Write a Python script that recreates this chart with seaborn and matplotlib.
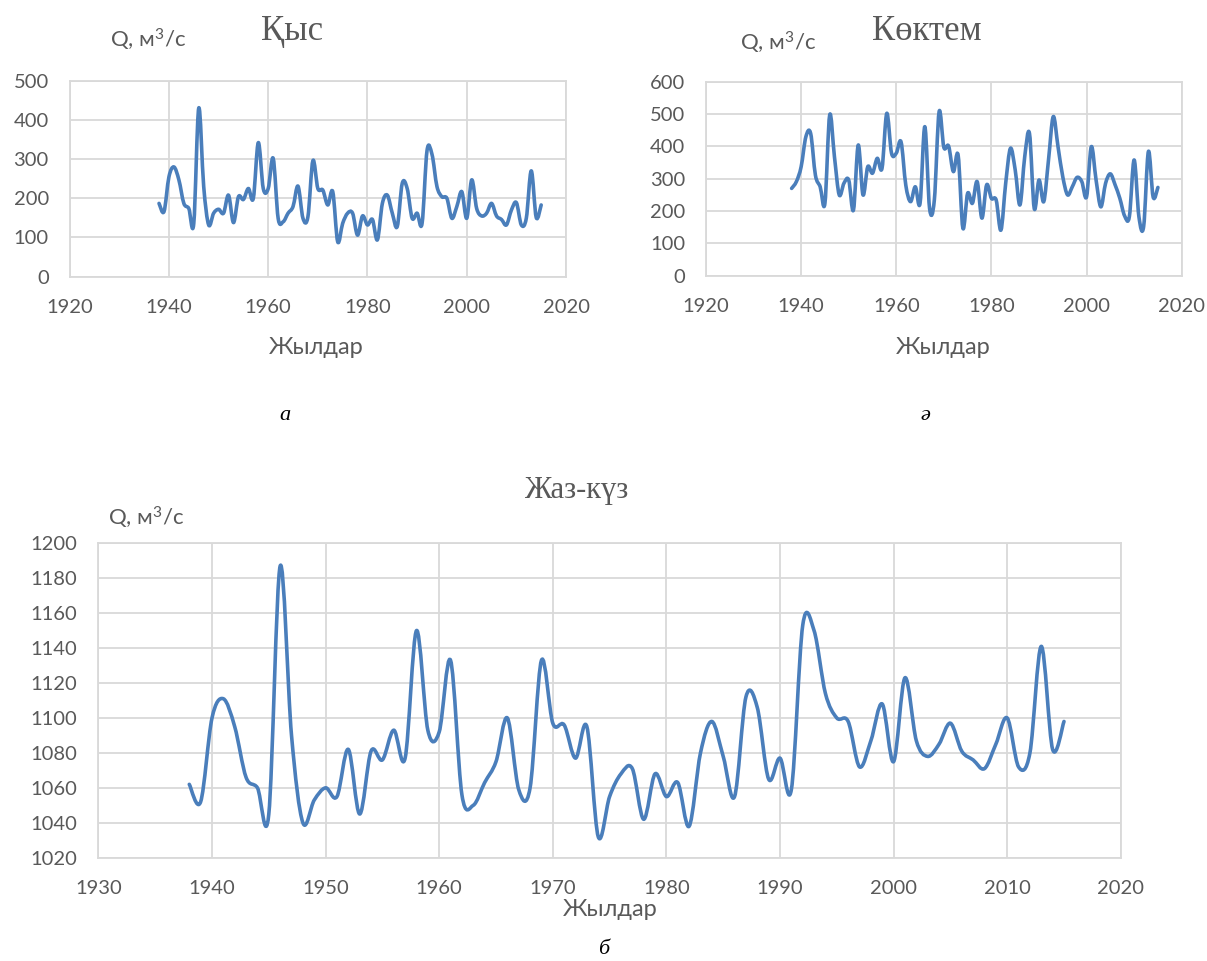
import numpy as np
import pandas as pd
import matplotlib
matplotlib.use("Agg")
import matplotlib.pyplot as plt
from matplotlib.path import Path
from matplotlib.patches import PathPatch
import seaborn as sns

# Annual mean discharge, Q (m^3/s), by season
years = list(range(1938, 2016))

winter = [187, 166, 255, 280, 247, 187, 174, 136, 430, 230,
          132, 162, 172, 162, 208, 138, 204, 197, 225, 200,
          342, 225, 225, 302, 149, 140, 162, 179, 231, 149,
          153, 296, 225, 221, 183, 217, 89, 136, 162, 162,
          106, 155, 132, 146, 94, 187, 208, 162, 128, 238,
          225, 149, 162, 136, 322, 312, 230, 204, 200, 149,
          179, 217, 149, 247, 174, 155, 162, 187, 155, 146,
          132, 170, 189, 132, 149, 270, 151, 183]

spring = [270, 291, 337, 430, 440, 311, 275, 224, 497, 368,
          250, 286, 296, 203, 404, 250, 337, 317, 363, 332,
          502, 379, 379, 414, 280, 229, 275, 224, 461, 208,
          234, 507, 397, 401, 322, 373, 147, 255, 224, 291,
          178, 281, 239, 234, 141, 286, 394, 327, 219, 368,
          440, 208, 296, 229, 358, 492, 399, 306, 250, 275,
          304, 291, 244, 399, 296, 213, 286, 315, 281, 239,
          185, 183, 358, 183, 152, 384, 243, 273]

summer_autumn = [1062, 1052, 1100, 1111, 1095, 1066, 1060, 1045, 1187, 1090,
                 1040, 1053, 1060, 1055, 1082, 1045, 1081, 1076, 1093, 1077,
                 1150, 1093, 1092, 1133, 1056, 1050, 1063, 1075, 1100, 1059,
                 1060, 1133, 1097, 1096, 1077, 1095, 1032, 1055, 1068, 1071,
                 1042, 1068, 1055, 1063, 1038, 1080, 1098, 1078, 1055, 1112,
                 1106, 1065, 1077, 1059, 1153, 1150, 1114, 1100, 1098, 1072,
                 1087, 1108, 1075, 1123, 1087, 1078, 1085, 1097, 1081, 1076,
                 1071, 1085, 1100, 1072, 1080, 1141, 1082, 1098]

titles = ["Қыс", "Көктем", "Жаз-күз"]
panel_letters = ["а", "ә", "б"]
y_label = r"Q, м$^{3}$/с"
x_label = "Жылдар"

W, H = 1207, 961
LINE = "#4a7ebb"
GRID = "#d9d9d9"
TXT = "#595959"

sns.set_theme(style="whitegrid")
plt.rcParams["font.family"] = ["Lato", "Open Sans", "DejaVu Sans"]
plt.rcParams["mathtext.fontset"] = "custom"
plt.rcParams["mathtext.rm"] = "Lato"
plt.rcParams["mathtext.it"] = "Lato:italic"
plt.rcParams["mathtext.bf"] = "Lato:bold"
plt.rcParams["mathtext.default"] = "regular"
SERIF = ["Liberation Serif", "DejaVu Serif"]


def smooth_line(ax, x, y):
    """Draw the series with seaborn, then render it as a smoothed
    Catmull-Rom curve through the same data points."""
    sns.lineplot(x=x, y=y, ax=ax, color=LINE, linewidth=2.6)
    line = ax.lines[-1]
    pts = line.get_xydata()
    line.remove()
    verts = [pts[0]]
    codes = [Path.MOVETO]
    n = len(pts)
    for i in range(n - 1):
        p0 = pts[i - 1] if i > 0 else pts[i]
        p1 = pts[i]
        p2 = pts[i + 1]
        p3 = pts[i + 2] if i + 2 < n else pts[i + 1]
        c1 = p1 + (p2 - p0) / 6.0
        c2 = p2 - (p3 - p1) / 6.0
        verts += [c1, c2, p2]
        codes += [Path.CURVE4] * 3
    patch = PathPatch(Path(verts, codes), fill=False, edgecolor=LINE,
                      linewidth=2.6, capstyle="round", joinstyle="round")
    ax.add_patch(patch)


def style_axes(ax, xlim, xstep, ylim, ystep):
    ax.set_xlim(*xlim)
    ax.set_ylim(*ylim)
    ax.set_xticks(np.arange(xlim[0], xlim[1] + 1, xstep))
    ax.set_yticks(np.arange(ylim[0], ylim[1] + 1, ystep))
    ax.grid(True, color=GRID, linewidth=1.3)
    ax.set_facecolor("white")
    for s in ax.spines.values():
        s.set_color(GRID)
        s.set_linewidth(1.3)
    ax.tick_params(length=0, labelsize=14.5, labelcolor=TXT)
    ax.tick_params(axis="x", pad=16)
    ax.tick_params(axis="y", pad=15)
    ax.set_xlabel("")
    ax.set_ylabel("")


fig = plt.figure(figsize=(W / 100, H / 100), dpi=100)


def add_axes_px(x0, y0, x1, y1):
    return fig.add_axes([x0 / W, 1 - y1 / H, (x1 - x0) / W, (y1 - y0) / H])


ax1 = add_axes_px(69.7, 80.7, 566.0, 276.7)
ax2 = add_axes_px(706.0, 81.7, 1181.7, 275.7)
ax3 = add_axes_px(98.4, 543.3, 1120.8, 857.7)

smooth_line(ax1, years, winter)
style_axes(ax1, (1920, 2020), 20, (0, 500), 100)

smooth_line(ax2, years, spring)
style_axes(ax2, (1920, 2020), 20, (0, 600), 100)

smooth_line(ax3, years, summer_autumn)
style_axes(ax3, (1930, 2020), 10, (1020, 1200), 20)


def text_px(x, y, s, **kw):
    fig.text(x / W, 1 - y / H, s, ha="center", va="center", **kw)


# Panel titles
text_px(292, 31, titles[0], fontsize=25, color=TXT, family=SERIF)
text_px(927, 31, titles[1], fontsize=25, color=TXT, family=SERIF)
text_px(576, 490, titles[2], fontsize=22, color=TXT, family=SERIF, style="normal")

# Axis units
text_px(148, 40, y_label, fontsize=16, color=TXT)
text_px(778, 43, y_label, fontsize=16, color=TXT)
text_px(146, 518, y_label, fontsize=16, color=TXT)

# Axis names
text_px(316, 348, x_label, fontsize=17, color=TXT)
text_px(943, 348, x_label, fontsize=17, color=TXT)
text_px(610, 910, x_label, fontsize=17, color=TXT)

# Panel letters
text_px(285, 416, panel_letters[0], fontsize=16, color="black", family=SERIF, style="italic")
text_px(925, 416, panel_letters[1], fontsize=16, color="black", family=SERIF, style="italic")
text_px(604, 950, panel_letters[2], fontsize=16, color="black", family=SERIF, style="italic")

fig.savefig("out.png", dpi=100, facecolor="white")
